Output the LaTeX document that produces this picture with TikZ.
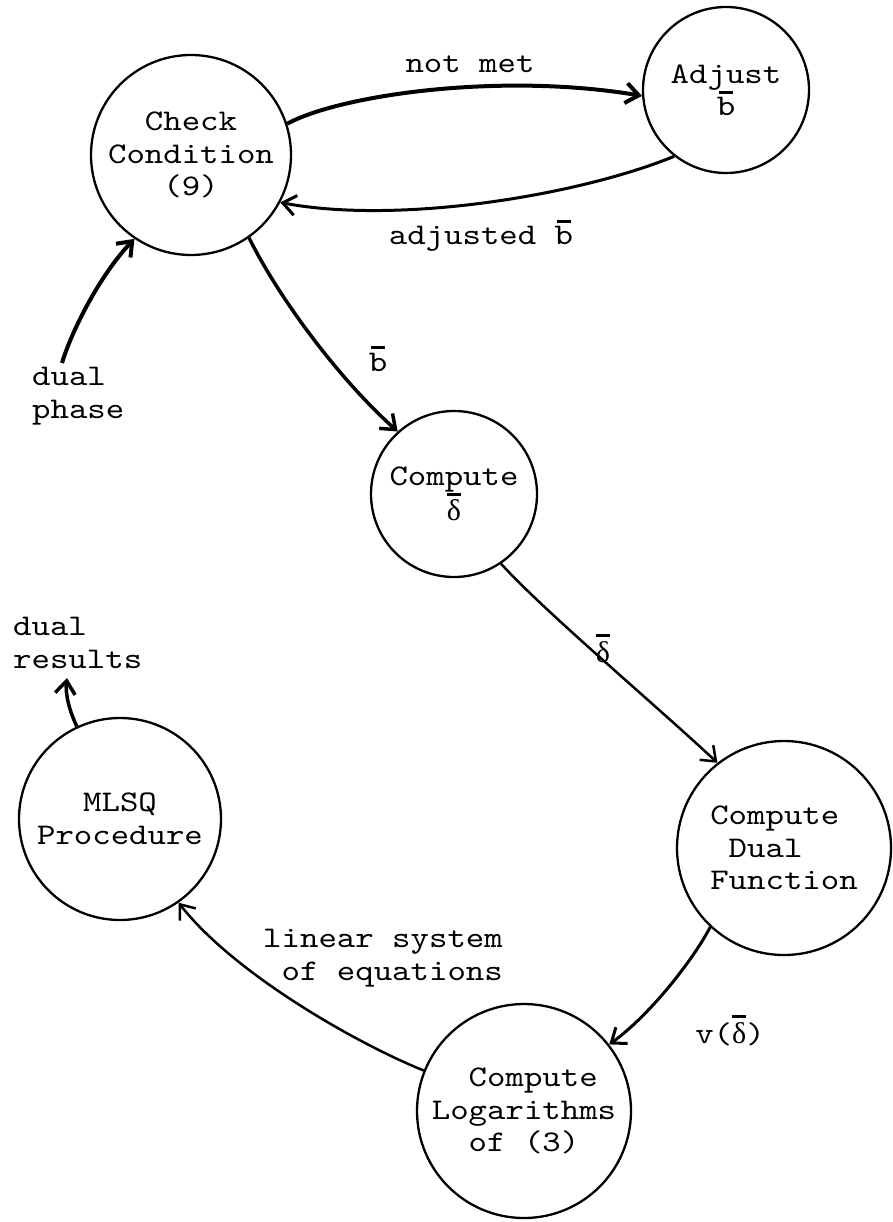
\documentclass[tikz,border=0pt]{standalone}
\usepackage{fontspec}
\newfontfamily\tw{lmmono10-regular.otf}[FakeStretch=1.17]
\newfontfamily\gk{Liberation Serif}
\usetikzlibrary{arrows.meta}
\newcommand\ob[1]{\leavevmode\hbox{\setbox0\hbox{#1}\rlap{\hbox to\wd0{\hss\raisebox{\dimexpr\ht0+0.12em\relax}{\rule{0.45em}{0.1em}}\hss}}\box0}}
\newcommand\dlt{{\gk δ}}
\begin{document}
\begin{tikzpicture}[x=1pt,y=-1pt,
  proc/.style={circle,draw,line width=2.3pt,inner sep=0pt,align=center,font=\tw\fontsize{30}{32.5}\selectfont},
  lbl/.style={font=\tw\fontsize{30}{32.5}\selectfont,inner sep=0pt},
  flow/.style={line width=#1,-{Straight Barb[length=13pt,width=20pt]}}
]
\useasboundingbox (0,0) rectangle (893,1222);
\node[proc,minimum size=200pt] (cc) at (191,155) {Check\\Condition\\(9)};
\node[proc,minimum size=166pt] (adj) at (726,90) {Adjust\\\ob{b}};
\node[proc,minimum size=166pt] (cd) at (454,494) {Compute\\\ob{\dlt}};
\node[proc,minimum size=214pt,align=left] (df) at (784,848) {Compute\\\hphantom{x}Dual\\Function};
\node[proc,minimum size=214pt,align=left] (lg) at (524,1111) {\hphantom{xx}Compute\\Logarithms\\\hphantom{xx}of (3)};
\node[proc,minimum size=202pt] (ml) at (120,819) {MLSQ\\Procedure};

\coordinate (dp) at (62,363);
\coordinate (dr) at (67,678);
\draw[flow=4pt] (cc.18) .. controls (340,95) and (500,72) .. (adj.184);
\draw[flow=3pt] (adj.232) .. controls (580,195) and (400,225) .. (cc.-28);
\draw[flow=4pt] (dp) .. controls (72,330) and (100,275) .. (cc.236);
\draw[flow=3.5pt] (cc.-55) .. controls (280,300) and (340,380) .. (cd.132);
\draw[flow=2.5pt] (cd.-56) .. controls (545,612) and (650,700) .. (df.128);
\draw[flow=3pt] (df.227) .. controls (693,960) and (650,1015) .. (lg.38);
\draw[flow=2.5pt] (lg.158) .. controls (360,1045) and (235,975) .. (ml.-55);
\draw[flow=3.5pt] (ml.115) .. controls (70,712) and (65,695) .. (dr);

\node[lbl,anchor=base] (l1) at (470,73) {not met};
\node[lbl,anchor=base] (l2) at (481,245) {adjusted \ob{b}};
\node[lbl,anchor=base west,align=left] (l3) at (32,418) {dual\\phase};
\node[lbl,anchor=base] (l4) at (378,371) {\ob{b}};
\node[lbl,anchor=base] (l5) at (603,662) {\ob{\dlt}};
\node[lbl,anchor=base] (l6) at (730,1043) {v(\ob{\dlt})};
\node[lbl,anchor=base east,align=right] (l7) at (503,980) {linear system\\of equations};
\node[lbl,anchor=base west,align=left] (l8) at (13,668) {dual\\results};
\end{tikzpicture}
\end{document}
